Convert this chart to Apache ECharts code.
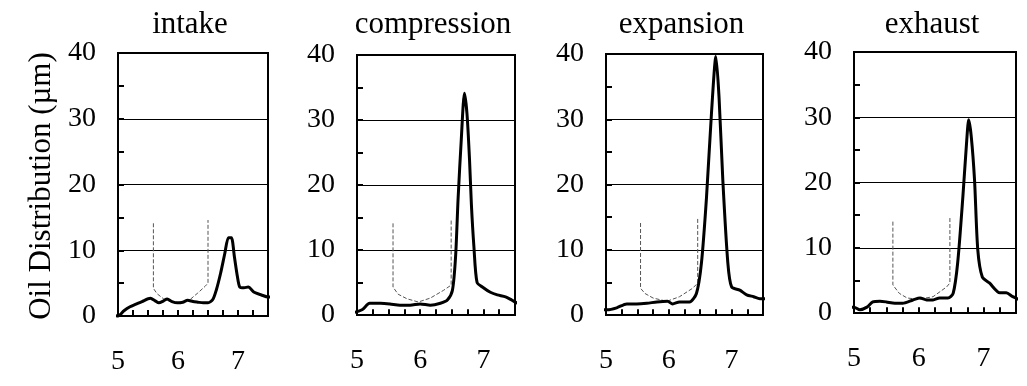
<!DOCTYPE html>
<html>
<head>
<meta charset="utf-8">
<title>Oil Distribution</title>
<script src="https://cdn.jsdelivr.net/npm/echarts@6/dist/echarts.min.js"></script>
<style>
  html, body { margin: 0; padding: 0; background: #fff; }
  #chart { width: 1027px; height: 386px; }
</style>
</head>
<body>
<div id="chart"></div>
<script>
// Stroke titles
const strokeTitles = ['intake', 'compression', 'expansion', 'exhaust'];

// Axis settings (position in mm, oil film thickness in µm)
const xTickLabels = [5, 6, 7];
const xTickPositions = [5.25, 5.5, 5.75, 6, 6.25, 6.5, 6.75, 7, 7.25];
const yTickLabels = [0, 10, 20, 30, 40];

// Measured oil distribution for each stroke: [position, thickness]
const intakeCurve = [
  [4.88, 0.2], [5.0, 0.0], [5.1, 0.8], [5.2, 1.4], [5.3, 1.8], [5.4, 2.2], [5.54, 2.7],
  [5.62, 2.3], [5.68, 2.0], [5.76, 2.3], [5.82, 2.6], [5.9, 2.2], [5.99, 2.0], [6.08, 2.1],
  [6.16, 2.4], [6.25, 2.2], [6.33, 2.1], [6.42, 2.0], [6.5, 2.0], [6.58, 2.5], [6.64, 4.0],
  [6.71, 6.5], [6.78, 9.5], [6.84, 11.9], [6.89, 11.9], [6.94, 9.0], [6.99, 6.0], [7.03, 4.4],
  [7.1, 4.3], [7.17, 4.4], [7.27, 3.6], [7.39, 3.2], [7.5, 2.9], [7.64, 2.9]
];
const compressionCurve = [
  [4.92, 0.3], [5.08, 0.8], [5.2, 1.8], [5.37, 1.8], [5.52, 1.7], [5.68, 1.5], [5.84, 1.5],
  [6.0, 1.7], [6.16, 1.5], [6.32, 1.8], [6.43, 2.3], [6.51, 3.8], [6.56, 9.0], [6.6, 18.0],
  [6.65, 27.0], [6.7, 34.1], [6.74, 31.0], [6.78, 24.0], [6.81, 17.0], [6.85, 10.5], [6.9, 5.0],
  [7.0, 4.2], [7.11, 3.5], [7.22, 3.1], [7.35, 2.8], [7.45, 2.3], [7.55, 1.8], [7.6, 2.0]
];
const expansionCurve = [
  [4.95, 0.8], [5.02, 0.8], [5.17, 1.1], [5.33, 1.7], [5.49, 1.7], [5.65, 1.8], [5.81, 2.0],
  [5.98, 2.1], [6.06, 1.7], [6.17, 2.0], [6.33, 2.0], [6.44, 3.3], [6.52, 8.0], [6.6, 18.0],
  [6.68, 31.0], [6.75, 39.6], [6.8, 33.4], [6.86, 20.7], [6.94, 8.0], [7.0, 4.3], [7.13, 3.8],
  [7.24, 3.1], [7.35, 2.8], [7.45, 2.5], [7.58, 2.5]
];
const exhaustCurve = [
  [4.91, 0.9], [5.0, 0.9], [5.09, 0.5], [5.2, 0.9], [5.29, 1.7], [5.4, 1.8], [5.5, 1.7],
  [5.63, 1.5], [5.75, 1.5], [5.91, 2.0], [6.02, 2.3], [6.12, 2.0], [6.22, 2.0], [6.32, 2.3],
  [6.45, 2.3], [6.53, 3.0], [6.6, 7.7], [6.68, 17.8], [6.74, 26.5], [6.77, 29.6], [6.81, 27.0],
  [6.86, 20.4], [6.91, 9.7], [6.98, 5.5], [7.09, 4.6], [7.25, 3.1], [7.35, 3.1], [7.45, 2.5],
  [7.56, 2.0]
];

// Ring-groove profile outline drawn behind each curve
const intakeProfile = [
  [5.59, 14.1], [5.59, 4.2], [5.65, 3.4], [5.76, 2.6], [5.9, 2.1], [6.05, 2.1],
  [6.2, 2.5], [6.33, 3.5], [6.45, 4.5], [6.5, 5.0], [6.5, 14.6]
];
const compressionProfile = [
  [5.57, 14.1], [5.57, 4.3], [5.65, 3.2], [5.79, 2.5], [5.97, 2.0], [6.16, 2.6],
  [6.37, 3.8], [6.49, 4.6], [6.49, 14.6]
];
const expansionProfile = [
  [5.55, 14.1], [5.55, 4.1], [5.62, 3.3], [5.75, 2.6], [5.97, 2.1], [6.17, 2.8],
  [6.38, 4.1], [6.46, 4.9], [6.46, 14.9]
];
const exhaustProfile = [
  [5.6, 14.0], [5.6, 4.3], [5.7, 3.0], [5.82, 2.3], [6.0, 2.1], [6.22, 2.5],
  [6.43, 4.0], [6.48, 4.6], [6.48, 14.6]
];

const curves = [intakeCurve, compressionCurve, expansionCurve, exhaustCurve];
const profiles = [intakeProfile, compressionProfile, expansionProfile, exhaustProfile];

// Panel boxes in pixels (x axis spans 5 to 7.5)
const boxes = [
  { left: 118, top: 53, width: 150, height: 263 },
  { left: 357, top: 55, width: 158, height: 260 },
  { left: 606, top: 54, width: 157, height: 261 },
  { left: 854, top: 52, width: 162, height: 261 }
];

const FONT = '"Liberation Serif", "DejaVu Serif", serif';
const TICK_LEN = 0.9; // inner tick length along the bottom edge, in µm
const ink = () => ({ color: '#000', width: 2 });

const grids = [], xAxes = [], yAxes = [], series = [], graphics = [];

boxes.forEach((b, i) => {
  grids.push({
    left: b.left, top: b.top, width: b.width, height: b.height,
    show: true, borderColor: '#000', borderWidth: 2, backgroundColor: 'transparent'
  });
  xAxes.push({
    type: 'value', gridIndex: i, min: 5, max: 7.5, interval: 1,
    axisLine: { show: true, onZero: false, lineStyle: ink() },
    axisTick: { show: false },
    minorTick: { show: false },
    splitLine: { show: false },
    axisLabel: {
      margin: 32, fontSize: 28, fontFamily: FONT, color: '#000',
      formatter: v => (xTickLabels.indexOf(v) >= 0 ? String(v) : '')
    }
  });
  yAxes.push({
    type: 'value', gridIndex: i, min: 0, max: 40, interval: 10,
    axisLine: { show: true, lineStyle: ink() },
    axisTick: { show: true, inside: true, length: 6, lineStyle: ink() },
    minorTick: { show: true, splitNumber: 2, length: 6, lineStyle: ink() },
    splitLine: { show: true, lineStyle: { color: '#000', width: 1 } },
    axisLabel: {
      margin: 22, fontSize: 28, fontFamily: FONT, color: '#000',
      formatter: v => (yTickLabels.indexOf(v) >= 0 ? String(v) : '')
    }
  });
  // Groove outline, carrying the short inner ticks of the bottom edge
  series.push({
    type: 'line', xAxisIndex: i, yAxisIndex: i, data: profiles[i],
    showSymbol: false, clip: false, z: 2,
    lineStyle: { color: '#555', width: 1, type: [4, 2] },
    markLine: {
      silent: true, symbol: 'none', animation: false,
      label: { show: false },
      lineStyle: { color: '#000', width: 2, type: 'solid' },
      data: xTickPositions.map(x => [{ coord: [x, 0] }, { coord: [x, TICK_LEN] }])
    }
  });
  series.push({
    type: 'line', xAxisIndex: i, yAxisIndex: i, data: curves[i],
    showSymbol: false, clip: false, smooth: 0.25, z: 3,
    lineStyle: { color: '#000', width: 3, join: 'round', cap: 'round' }
  });
  graphics.push({
    type: 'text', x: b.left + b.width / 2 - 3, y: 9,
    style: {
      text: strokeTitles[i], font: '31px ' + FONT, fill: '#000',
      align: 'center', textAlign: 'center', verticalAlign: 'top', textVerticalAlign: 'top'
    }
  });
});

graphics.push({
  type: 'text', x: 42, y: 186, rotation: Math.PI / 2,
  style: {
    text: 'Oil Distribution (µm)', font: '31px ' + FONT, fill: '#000',
    align: 'center', textAlign: 'center', verticalAlign: 'middle', textVerticalAlign: 'middle'
  }
});

const chart = echarts.init(document.getElementById('chart'), null, { renderer: 'canvas' });
chart.setOption({
  animation: false,
  grid: grids,
  xAxis: xAxes,
  yAxis: yAxes,
  series: series,
  graphic: graphics
});
</script>
</body>
</html>
